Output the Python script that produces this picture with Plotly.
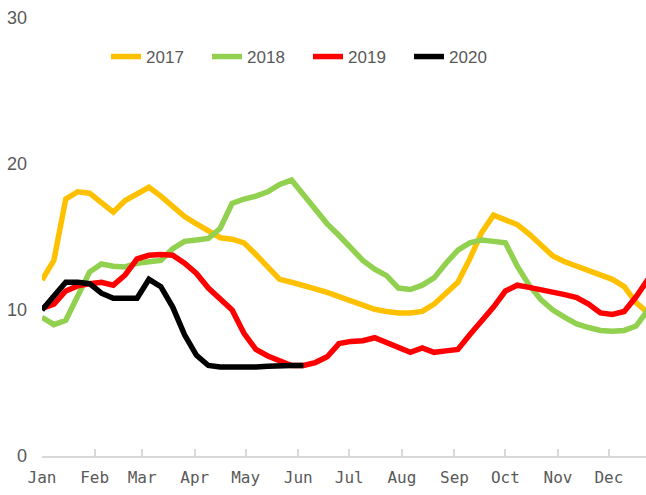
import pandas as pd
import plotly.graph_objects as go

# weekly observations, plotted on a common calendar year
weeks = pd.date_range("2021-01-01", periods=52, freq="7D")

y2017 = [12.05, 13.4, 17.6, 18.1, 18.0, 17.4, 16.7, 17.5, 18.0, 18.4, 17.8, 17.1, 16.4,
         15.9, 15.4, 14.95, 14.85, 14.6, 13.8, 12.9, 12.1, 11.9, 11.7, 11.45, 11.2, 10.9,
         10.55, 10.3, 10.05, 9.9, 9.8, 9.8, 9.9, 10.4, 11.2, 11.9, 13.5, 15.3, 16.5, 16.2,
         15.85, 15.2, 14.4, 13.7, 13.3, 13.0, 12.7, 12.4, 12.1, 11.6, 10.5, 9.8]
y2018 = [9.5, 9.0, 9.3, 11.0, 12.6, 13.15, 13.0, 12.95, 13.2, 13.3, 13.4, 14.2, 14.7,
         14.8, 14.9, 15.6, 17.3, 17.6, 17.8, 18.1, 18.6, 18.9, 17.9, 16.9, 15.9, 15.1,
         14.3, 13.4, 12.8, 12.35, 11.5, 11.4, 11.7, 12.2, 13.2, 14.1, 14.6, 14.8, 14.7, 14.6,
         13.0, 11.7, 10.7, 10.0, 9.5, 9.05, 8.8, 8.6, 8.55, 8.6, 8.9, 10.0]
y2019 = [10.1, 10.4, 11.3, 11.65, 11.8, 11.9, 11.7, 12.4, 13.5, 13.75, 13.8, 13.75, 13.2,
         12.5, 11.5, 10.8, 10.0, 8.4, 7.3, 6.85, 6.5, 6.2, 6.2, 6.4, 6.8, 7.7,
         7.85, 7.9, 8.1, 7.75, 7.4, 7.1, 7.4, 7.1, 7.2, 7.3, 8.3, 9.2, 10.2, 11.3,
         11.7, 11.55, 11.4, 11.2, 11.05, 10.85, 10.4, 9.8, 9.7, 9.9, 10.9, 12.1]
y2020 = [10.0, 11.0, 11.9, 11.9, 11.8, 11.15, 10.8, 10.8, 10.8, 12.1, 11.6, 10.2, 8.3,
         6.9, 6.2, 6.1, 6.1, 6.05, 6.1, 6.15, 6.2, 6.2, 6.2]

series_names = ["2017", "2018", "2019", "2020"]
series_values = [y2017, y2018, y2019, y2020]
series_colors = ["#FFC000", "#92D050", "#FF0000", "#000000"]

y_ticks = [0, 10, 20, 30]

FONT = "Liberation Sans, Arial, sans-serif"
GREY = "#595959"

fig = go.Figure()
for name, vals, col in zip(series_names, series_values, series_colors):
    fig.add_trace(go.Scatter(
        x=weeks[:len(vals)], y=vals, name=name, mode="lines",
        line=dict(color=col, width=5.5),
    ))

fig.update_layout(
    width=646, height=495,
    margin=dict(l=42, r=0, t=18, b=39),
    paper_bgcolor="white", plot_bgcolor="white",
    font=dict(family=FONT, color=GREY, size=18),
    showlegend=True,
    legend=dict(
        orientation="h", x=0.106, y=0.911, xanchor="left", yanchor="middle",
        font=dict(family=FONT, size=17, color=GREY),
        entrywidth=56, entrywidthmode="pixels",
        bgcolor="rgba(0,0,0,0)", itemclick=False,
    ),
    xaxis=dict(
        type="date", automargin=False,
        range=["2021-01-01", "2021-12-22 20:00"],
        tick0="2021-01-01", dtick="M1", tickformat="%b",
        showgrid=False, zeroline=False,
        showline=True, linecolor="#d9d9d9", linewidth=1.5,
        ticks="inside", ticklen=7, tickcolor="#d9d9d9", tickwidth=1.5,
        tickfont=dict(family="DejaVu Sans Mono, Liberation Mono, monospace", size=16, color=GREY),
        ticklabelstandoff=6,
    ),
    yaxis=dict(
        range=[0, 30], tickvals=y_ticks, automargin=False,
        showgrid=False, zeroline=False, showline=False,
        ticks="", tickfont=dict(family=FONT, size=18, color=GREY),
        ticklabelstandoff=14,
    ),
)

# remove the page's default body margin so the 646x495 figure fills the window
fig.write_html(
    "out.html",
    config={"displayModeBar": False},
    post_script="document.body.style.margin='0';document.body.style.overflow='hidden';",
)
